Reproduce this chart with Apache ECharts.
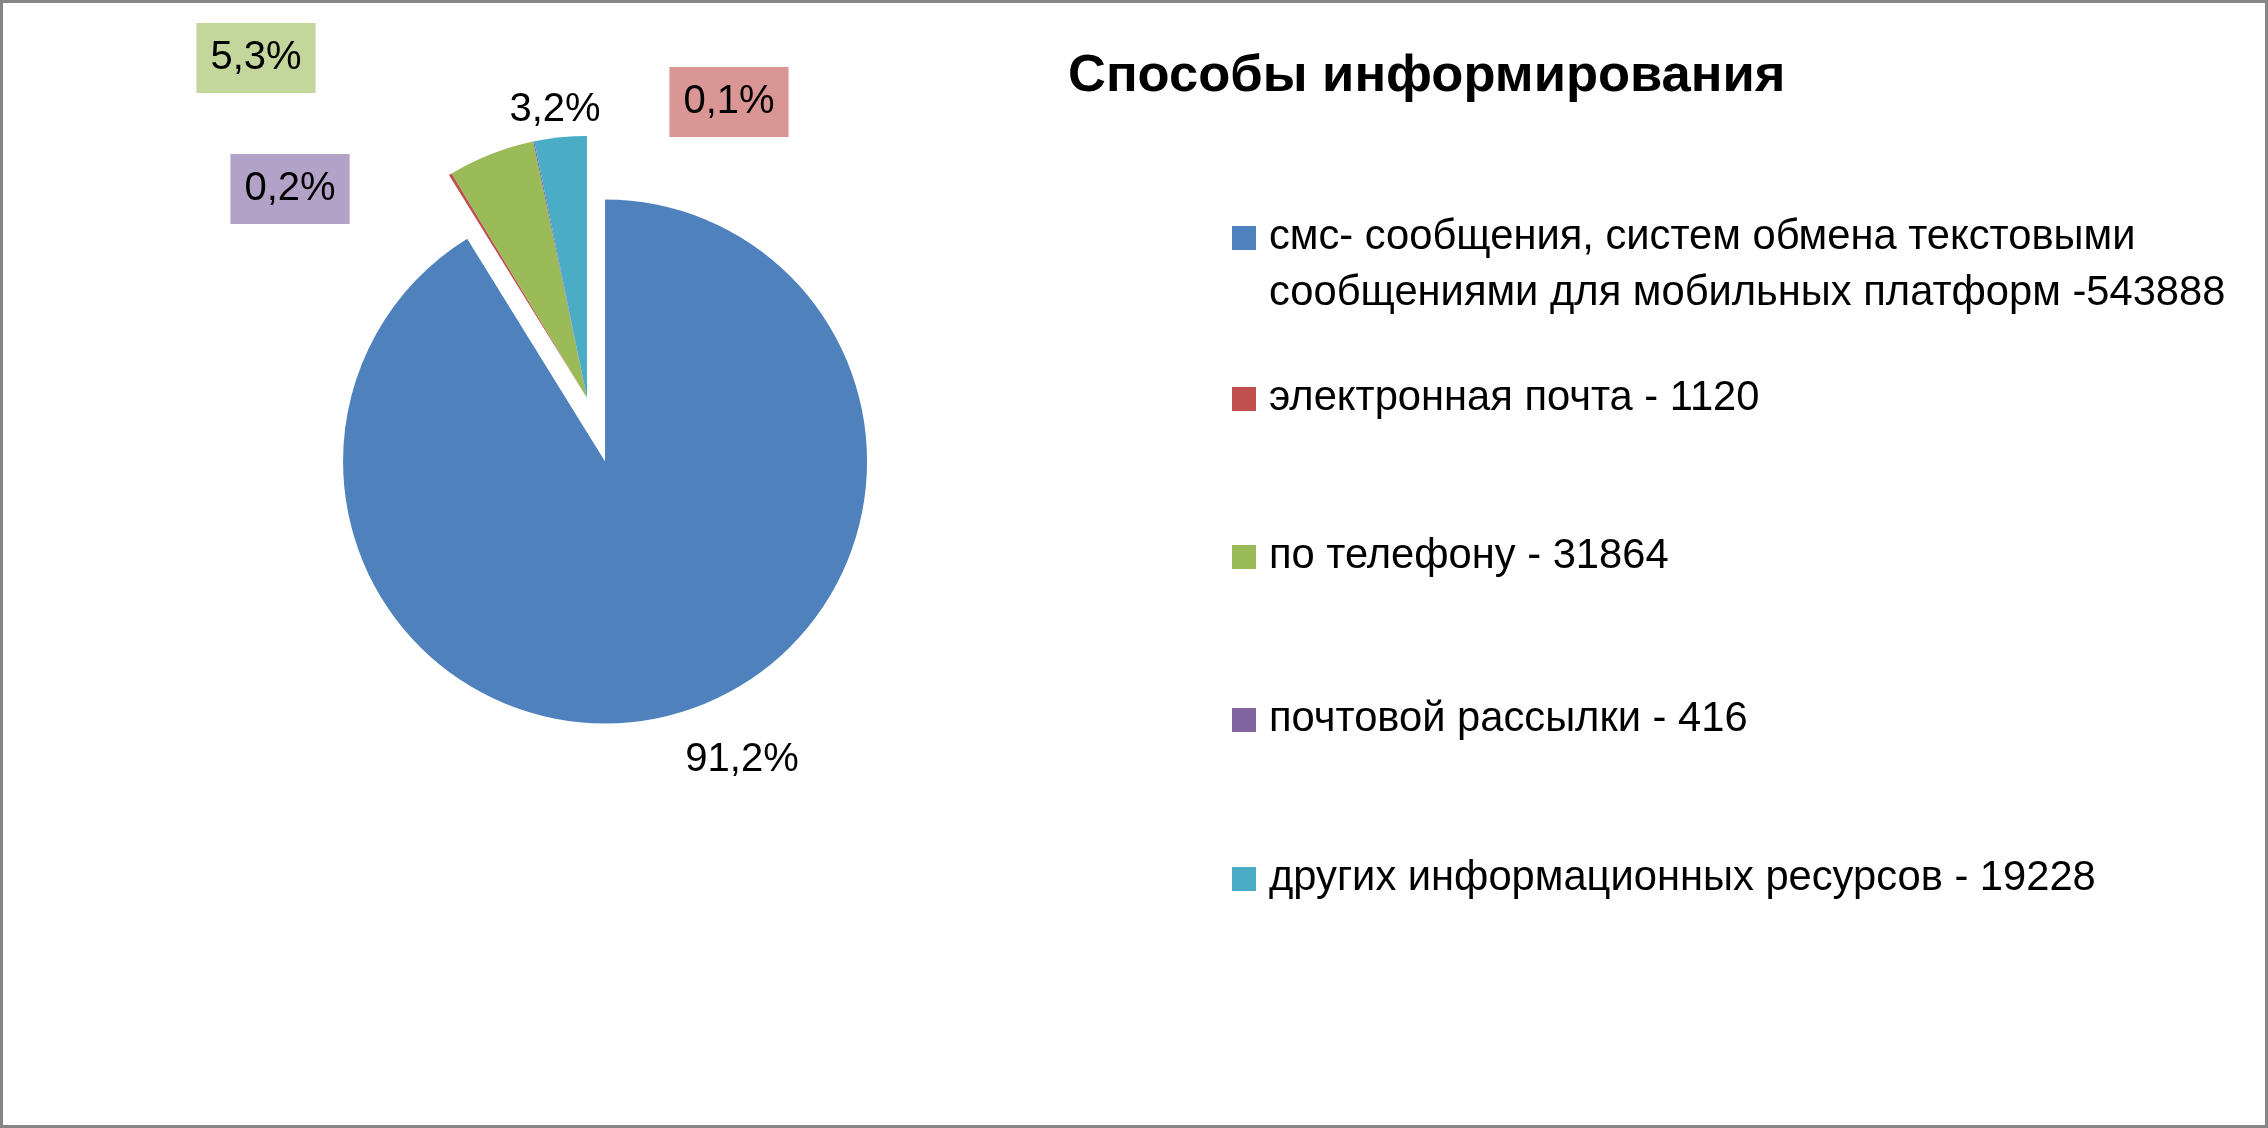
<!DOCTYPE html>
<html>
<head>
<meta charset="utf-8">
<script src="https://cdn.jsdelivr.net/npm/echarts@6/dist/echarts.min.js"></script>
<style>
html,body{margin:0;padding:0;background:#fff;}
#c{width:2268px;height:1128px;}
</style>
</head>
<body>
<div id="c"></div>
<script>
const titleText = 'Способы информирования';
const categories = [
  'смс- сообщения, систем обмена текстовыми\nсообщениями для мобильных платформ -543888',
  'электронная почта - 1120',
  'по телефону - 31864',
  'почтовой рассылки - 416',
  'других информационных ресурсов - 19228'
];
const values = [543888, 1120, 31864, 416, 19228];
const colors = ['#4F81BD', '#C0504D', '#9BBB59', '#8064A2', '#4BACC6'];
const labelBoxColors = [null, '#B3A2C7', '#C3D69B', '#D99694', null];
const explodedIndex = 0;

const PIE_CENTER = [587, 398];
const PIE_RADIUS = 262;
const EXPLODE = 66;
const labelPos = [[742, 760], [290, 189], [256, 58], [729, 102], [555, 110]];
const legendCenters = [238, 399, 557, 720, 879];

const FONT = '"Liberation Sans", Arial, sans-serif';

// offset of the exploded slice along its bisector
const total = values.reduce((a, b) => a + b, 0);
const before = values.slice(0, explodedIndex).reduce((a, b) => a + b, 0);
const midDeg = (before + values[explodedIndex] / 2) / total * 360; // clockwise from 12 o'clock
const midRad = midDeg * Math.PI / 180;
const explodedCenter = [PIE_CENTER[0] + EXPLODE * Math.sin(midRad), PIE_CENTER[1] - EXPLODE * Math.cos(midRad)];

const chart = echarts.init(document.getElementById('c'), null, {renderer: 'canvas'});

const legends = categories.map((name, i) => {
  const multi = name.indexOf('\n') >= 0;
  return {
    data: [{name: name, itemStyle: {color: colors[i]}}],
    orient: 'vertical',
    left: 1232,
    top: multi ? legendCenters[i] - 84 : legendCenters[i] - 28,
    padding: 0,
    itemWidth: 24,
    itemHeight: 24,
    itemGap: 0,
    icon: 'rect',
    selectedMode: false,
    formatter: n => (n.indexOf('\n') >= 0 ? '\n' + n : n),
    textStyle: {
      fontFamily: FONT,
      fontSize: 41.7,
      lineHeight: 56,
      color: '#000',
      padding: [0, 0, 0, 8]
    }
  };
});

function pieSeries(center, visible) {
  return {
    type: 'pie',
    center: center,
    radius: PIE_RADIUS,
    startAngle: 90,
    clockwise: true,
    avoidLabelOverlap: false,
    selectedMode: false,
    emphasis: {disabled: true},
    silent: true,
    itemStyle: {borderWidth: 0},
    labelLine: {show: false},
    label: {
      show: true,
      position: 'outside',
      fontFamily: FONT,
      fontSize: 40,
      lineHeight: 40,
      color: '#000',
      padding: [15, 14],
      formatter: p => p.percent.toFixed(1).replace('.', ',') + '%'
    },
    labelLayout: params => ({
      x: labelPos[params.dataIndex][0],
      y: labelPos[params.dataIndex][1],
      align: 'center',
      verticalAlign: 'middle'
    }),
    data: values.map((v, i) => {
      const on = visible(i);
      return {
        name: categories[i],
        value: v,
        itemStyle: {color: on ? colors[i] : 'rgba(0,0,0,0)'},
        label: on
          ? (labelBoxColors[i] ? {show: true, backgroundColor: labelBoxColors[i]} : {show: true})
          : {show: false}
      };
    })
  };
}

chart.setOption({
  backgroundColor: '#fff',
  animation: false,
  title: {
    text: titleText,
    left: 1068,
    top: 51,
    padding: 0,
    textStyle: {fontFamily: FONT, fontSize: 52.5, fontWeight: 'bold', color: '#000', lineHeight: 52}
  },
  legend: legends,
  graphic: [{
    type: 'rect',
    shape: {x: 1.5, y: 1.5, width: 2265, height: 1125},
    style: {fill: 'none', stroke: '#868686', lineWidth: 3},
    silent: true
  }],
  series: [
    pieSeries(PIE_CENTER, i => i !== explodedIndex),
    pieSeries(explodedCenter, i => i === explodedIndex)
  ]
});
</script>
</body>
</html>
